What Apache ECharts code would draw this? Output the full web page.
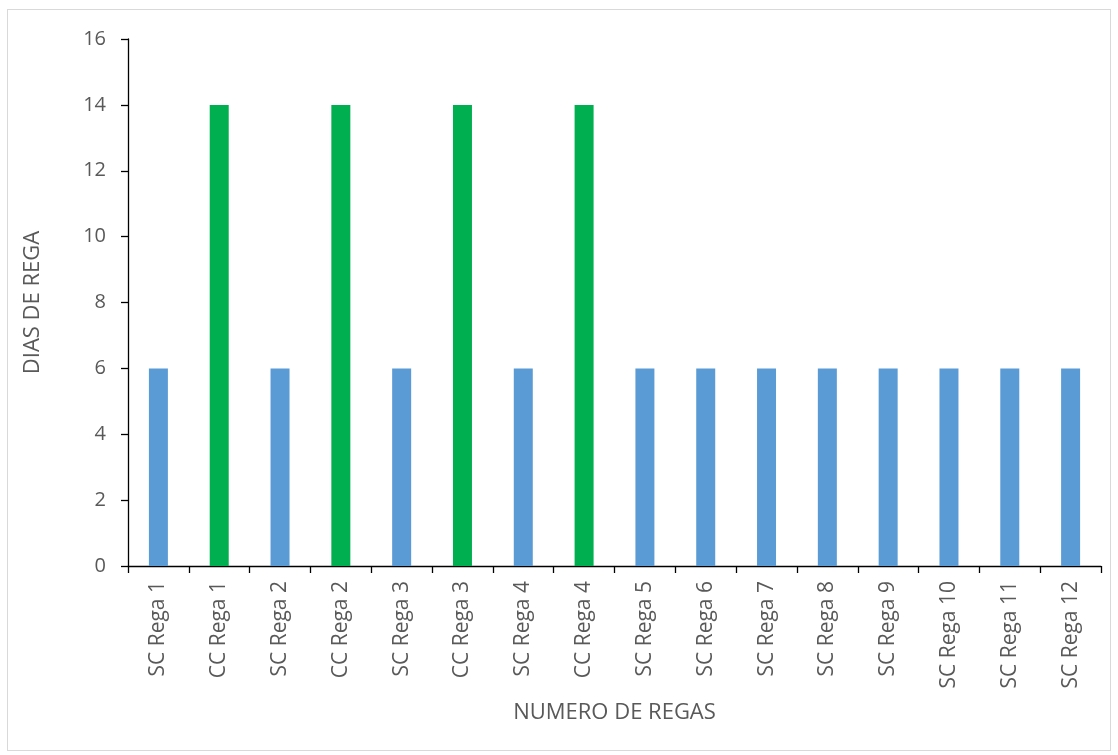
<!DOCTYPE html>
<html><head><meta charset="utf-8">
<script src="https://cdn.jsdelivr.net/npm/echarts@6/dist/echarts.min.js"></script>
<style>html,body{margin:0;padding:0;background:#fff}#c{width:1118px;height:755px}
#frame{position:absolute;left:7px;top:9px;width:1102px;height:740px;border:1px solid #d9d9d9;pointer-events:none}</style>
</head><body><div id="c"></div><div id="frame"></div>
<script>
const categories = ['SC Rega 1','CC Rega 1','SC Rega 2','CC Rega 2','SC Rega 3','CC Rega 3','SC Rega 4','CC Rega 4','SC Rega 5','SC Rega 6','SC Rega 7','SC Rega 8','SC Rega 9','SC Rega 10','SC Rega 11','SC Rega 12'];
const values = [6,14,6,14,6,14,6,14,6,6,6,6,6,6,6,6];
const yTicks = [0,2,4,6,8,10,12,14,16];
const xName = 'NUMERO DE REGAS';
const yName = 'DIAS DE REGA';

const font = 'Open Sans';
const chart = echarts.init(document.getElementById('c'));
chart.setOption({
  animation:false,
  textStyle:{fontFamily:font},
  grid:{left:128,right:17,top:39,bottom:189,containLabel:false},
  xAxis:{type:'category',data:categories,name:xName,nameLocation:'middle',nameGap:136,
    nameTextStyle:{color:'#595959',fontSize:22,fontFamily:font},
    axisLine:{lineStyle:{color:'#000',width:1.3}},
    axisTick:{show:true,length:7,lineStyle:{color:'#000',width:1.3}},
    axisLabel:{rotate:90,color:'#595959',fontSize:21,margin:15,fontFamily:font,interval:0}},
  yAxis:{type:'value',min:yTicks[0],max:yTicks[yTicks.length-1],interval:2,name:yName,nameLocation:'middle',nameGap:84,
    nameTextStyle:{color:'#595959',fontSize:22,fontFamily:font},
    splitLine:{show:false},
    axisLine:{show:true,lineStyle:{color:'#000',width:1.3}},
    axisTick:{show:true,length:7,lineStyle:{color:'#000',width:1.3}},
    axisLabel:{color:'#595959',fontSize:20,margin:22,fontFamily:font}},
  series:[{type:'bar',barWidth:19,
    data:values.map((v,i)=>({value:v,itemStyle:{color:categories[i].startsWith('CC')?'#00B050':'#5B9BD5'}}))}]
});
</script></body></html>
